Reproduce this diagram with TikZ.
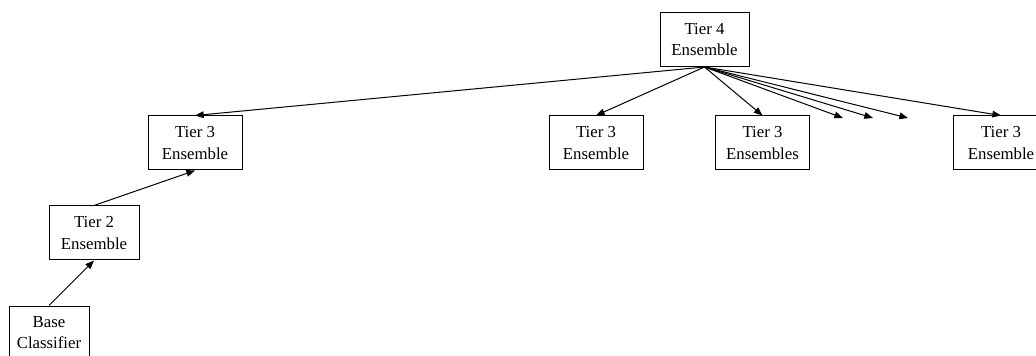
\documentclass[tikz,border=0pt]{standalone}
\usepackage{fontspec}
\setmainfont{Liberation Serif}
\usetikzlibrary{arrows.meta}

\begin{document}
\begin{tikzpicture}
	 [x=0.75pt,y=-0.75pt,line width=0.75pt,
	  every node/.style={draw,align=center,inner sep=0pt,minimum height=40.5pt,
	    font=\fontsize{12.6}{15.8}\selectfont},
	  link/.style={-{Triangle[length=6.5pt,width=5pt]}}]

	\useasboundingbox (0,0) rectangle (1036,356);
	\clip (0,0) rectangle (1036,356);

	  \node (t4) [minimum width=66.75pt] at (704.5,39.5) {Tier 4\\Ensemble};
	  \node (t3a) [minimum width=70.5pt] at (195,143) {Tier 3\\Ensemble};
	  \node (t3b) [minimum width=70.5pt] at (596,143) {Tier 3\\Ensemble};
	  \node (t3c) [minimum width=70pt] at (762.5,143) {Tier 3\\Ensembles};
	  \node (t3d) [minimum width=72pt] at (1001,143) {Tier 3\\Ensemble};
	  \node (t2) [minimum width=67.5pt] at (94,233) {Tier 2\\Ensemble};
	  \node (b) [minimum width=60pt] at (49,333) {Base\\Classifier};

	  \coordinate (e1) at (843,118);
	  \coordinate (e2) at (873,118);
	  \coordinate (e3) at (908,118);

	\foreach \to in {t3a,t3b,t3c,t3d}
    \draw[link] (t4.south) -- (\to.north);

	\foreach \to in {e1,e2,e3}
    \draw[link] (t4.south) -- (\to);

	\draw[link] (t2.north) -- (t3a.south);
	\draw[link] (b.north) -- (t2.south);

\end{tikzpicture}
\end{document}
